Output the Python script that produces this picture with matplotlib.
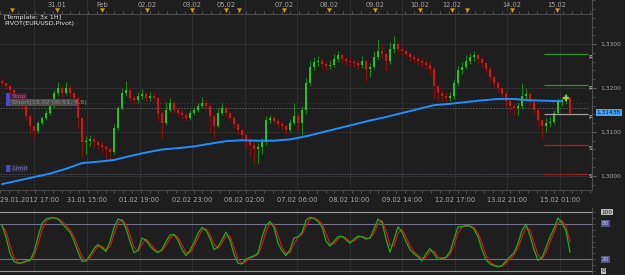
import numpy as np
import pandas as pd
import matplotlib
matplotlib.use("Agg")
import matplotlib.pyplot as plt
from matplotlib.patches import Rectangle
from matplotlib.ticker import MultipleLocator, FuncFormatter

# ---------------- data ----------------
first_open = 1.3215
closes = [
    1.3211, 1.3204, 1.3195, 1.3181, 1.3170, 1.3159, 1.3137, 1.3114, 1.3103, 1.3121,
    1.3132, 1.3143, 1.3159, 1.3188, 1.3199, 1.3188, 1.3199, 1.3188, 1.3177, 1.3132,
    1.3076, 1.3079, 1.3083, 1.3076, 1.3070, 1.3065, 1.3061, 1.3054, 1.3110, 1.3155,
    1.3188, 1.3195, 1.3177, 1.3172, 1.3181, 1.3186, 1.3177, 1.3181, 1.3177, 1.3143,
    1.3121, 1.3150, 1.3166, 1.3150, 1.3143, 1.3139, 1.3132, 1.3143, 1.3150, 1.3159,
    1.3166, 1.3159, 1.3137, 1.3114, 1.3143, 1.3155, 1.3143, 1.3132, 1.3117, 1.3105,
    1.3092, 1.3081, 1.3070, 1.3061, 1.3065, 1.3076, 1.3128, 1.3132, 1.3126, 1.3119,
    1.3114, 1.3105, 1.3121, 1.3137, 1.3121, 1.3150, 1.3211, 1.3249, 1.3260, 1.3262,
    1.3255, 1.3251, 1.3253, 1.3266, 1.3275, 1.3266, 1.3262, 1.3260, 1.3257, 1.3253,
    1.3262, 1.3244, 1.3249, 1.3271, 1.3284, 1.3278, 1.3262, 1.3289, 1.3300, 1.3289,
    1.3284, 1.3278, 1.3271, 1.3266, 1.3262, 1.3257, 1.3253, 1.3244, 1.3204, 1.3188,
    1.3181, 1.3177, 1.3181, 1.3211, 1.3240, 1.3249, 1.3262, 1.3271, 1.3275, 1.3266,
    1.3257, 1.3244, 1.3226, 1.3211, 1.3199, 1.3186, 1.3170, 1.3159, 1.3155, 1.3159,
    1.3181, 1.3186, 1.3168, 1.3150, 1.3128, 1.3114, 1.3121, 1.3123, 1.3143, 1.3170,
    1.3172, 1.3177, 1.3144,
]
highs = [
    1.3222, 1.3214, 1.3207, 1.3198, 1.3186, 1.3174, 1.3162, 1.3140, 1.3118, 1.3126,
    1.3137, 1.3150, 1.3166, 1.3195, 1.3213, 1.3204, 1.3213, 1.3206, 1.3192, 1.3181,
    1.3135, 1.3090, 1.3092, 1.3090, 1.3080, 1.3076, 1.3070, 1.3066, 1.3118, 1.3160,
    1.3200, 1.3217, 1.3200, 1.3184, 1.3190, 1.3197, 1.3192, 1.3190, 1.3188, 1.3183,
    1.3148, 1.3168, 1.3177, 1.3170, 1.3155, 1.3150, 1.3145, 1.3150, 1.3157, 1.3166,
    1.3180, 1.3175, 1.3163, 1.3140, 1.3155, 1.3166, 1.3160, 1.3148, 1.3137, 1.3121,
    1.3110, 1.3096, 1.3085, 1.3076, 1.3075, 1.3085, 1.3137, 1.3139, 1.3137, 1.3130,
    1.3125, 1.3118, 1.3130, 1.3166, 1.3143, 1.3160, 1.3222, 1.3262, 1.3271, 1.3273,
    1.3268, 1.3262, 1.3264, 1.3278, 1.3284, 1.3280, 1.3271, 1.3270, 1.3266, 1.3264,
    1.3272, 1.3266, 1.3258, 1.3284, 1.3311, 1.3298, 1.3282, 1.3305, 1.3318, 1.3305,
    1.3294, 1.3289, 1.3282, 1.3276, 1.3272, 1.3268, 1.3264, 1.3262, 1.3248, 1.3208,
    1.3195, 1.3190, 1.3192, 1.3220, 1.3250, 1.3260, 1.3275, 1.3280, 1.3284, 1.3280,
    1.3270, 1.3260, 1.3248, 1.3230, 1.3215, 1.3203, 1.3190, 1.3174, 1.3166, 1.3168,
    1.3211, 1.3200, 1.3190, 1.3172, 1.3155, 1.3130, 1.3132, 1.3135, 1.3150, 1.3178,
    1.3180, 1.3188, 1.3180,
]
lows = [
    1.3205, 1.3198, 1.3188, 1.3175, 1.3162, 1.3150, 1.3128, 1.3095, 1.3087, 1.3098,
    1.3116, 1.3128, 1.3139, 1.3155, 1.3183, 1.3180, 1.3184, 1.3180, 1.3168, 1.3110,
    1.3043, 1.3050, 1.3068, 1.3066, 1.3060, 1.3052, 1.3036, 1.3036, 1.3050, 1.3105,
    1.3150, 1.3183, 1.3170, 1.3163, 1.3166, 1.3176, 1.3170, 1.3170, 1.3168, 1.3125,
    1.3087, 1.3115, 1.3145, 1.3143, 1.3137, 1.3130, 1.3125, 1.3128, 1.3139, 1.3145,
    1.3155, 1.3150, 1.3100, 1.3087, 1.3110, 1.3139, 1.3135, 1.3125, 1.3108, 1.3096,
    1.3083, 1.3063, 1.3045, 1.3027, 1.3030, 1.3050, 1.3070, 1.3120, 1.3118, 1.3110,
    1.3105, 1.3096, 1.3100, 1.3115, 1.3105, 1.3092, 1.3140, 1.3205, 1.3240, 1.3250,
    1.3246, 1.3242, 1.3244, 1.3248, 1.3260, 1.3258, 1.3252, 1.3250, 1.3248, 1.3244,
    1.3246, 1.3215, 1.3225, 1.3244, 1.3264, 1.3268, 1.3238, 1.3255, 1.3280, 1.3280,
    1.3275, 1.3270, 1.3262, 1.3257, 1.3253, 1.3248, 1.3244, 1.3230, 1.3176, 1.3170,
    1.3170, 1.3168, 1.3170, 1.3175, 1.3205, 1.3232, 1.3243, 1.3255, 1.3262, 1.3258,
    1.3248, 1.3235, 1.3216, 1.3200, 1.3190, 1.3176, 1.3158, 1.3145, 1.3139, 1.3139,
    1.3152, 1.3170, 1.3160, 1.3140, 1.3110, 1.3083, 1.3100, 1.3112, 1.3118, 1.3138,
    1.3160, 1.3164, 1.3138,
]
# moving average sampled every 4th candle
ma_values = [
    1.2981, 1.2989, 1.2997, 1.3005, 1.3016, 1.3029, 1.3032, 1.3036, 1.3045, 1.3053,
    1.3060, 1.3063, 1.3067, 1.3073, 1.3079, 1.3081, 1.3080, 1.3080, 1.3083, 1.3090,
    1.3099, 1.3108, 1.3117, 1.3126, 1.3134, 1.3143, 1.3152, 1.3161, 1.3164, 1.3168,
    1.3172, 1.3175, 1.3175, 1.3172, 1.3171, 1.3170,
]
stoch_k = [
    77, 57, 30, 16, 13, 14, 17, 18, 32, 58,
    81, 88, 90, 90, 88, 81, 73, 66, 51, 32,
    16, 17, 27, 38, 45, 39, 33, 50, 74, 88,
    86, 72, 50, 31, 35, 56, 52, 42, 35, 31,
    37, 50, 61, 62, 52, 36, 26, 35, 48, 64,
    74, 69, 55, 36, 41, 53, 66, 52, 28, 13,
    12, 20, 23, 26, 30, 57, 77, 84, 74, 47,
    34, 26, 36, 56, 58, 65, 86, 91, 89, 84,
    75, 51, 42, 50, 58, 59, 53, 47, 54, 59,
    58, 54, 56, 71, 88, 83, 54, 32, 53, 75,
    66, 50, 36, 29, 24, 17, 29, 38, 29, 19,
    22, 23, 33, 54, 75, 75, 77, 76, 71, 58,
    36, 19, 12, 9, 7, 9, 17, 24, 31, 47,
    69, 79, 60, 36, 18, 23, 40, 58, 72, 90,
    81, 68, 32,
]
pivot_names = ["R2", "R1", "P", "S1", "S2"]
pivot_values = [1.3278, 1.3206, 1.3141, 1.3070, 1.3005]
stop_price = 1.3166
entry_price = 1.3155
limit_price = 1.3005
last_price = 1.31438
trade_marker = (141, 1.3177)
price_ticks = [1.3000, 1.3100, 1.3200, 1.3300]
osc_levels = [100, 80, 20, 0]
time_labels = ["29.01.2012 17:00", "31.01 15:00", "01.02 19:00", "02.02 23:00",
               "06.02 02:00", "07.02 06:00", "08.02 10:00", "09.02 14:00",
               "12.02 17:00", "13.02 21:00", "15.02 01:00"]
day_labels = ["31.01", "Feb", "02.02", "03.02", "05.02", "07.02", "08.02",
              "09.02", "10.02", "12.02", "14.02", "15.02"]
day_idx = [13.75, 25, 36.25, 47.5, 56, 70.5, 81.75, 93.25, 104.5, 112.5, 127.5, 138.75]
extra_marker_idx = [2.5, 59.25, 116.25]

# ---------------- style ----------------
W, H = 625, 275
BG = "#1e1e1e"
GRID = "#2e2e2e"
TXT = "#a8a8a8"
GREEN = "#22c222"
GREEN_W = "#138a13"
RED = "#d21414"
RED_W = "#8a1010"

c = np.array(closes)
hi = np.array(highs)
lo = np.array(lows)
o = np.r_[first_open, c[:-1]]
n = len(c)
x = np.arange(n)
up = c >= o

fig = plt.figure(figsize=(W / 100, H / 100), dpi=100, facecolor=BG)

# main price axes (pixel rows 0..190, cols 0..592)
ax = fig.add_axes([0, 85 / H, 592 / W, 190 / H], facecolor=BG)
ax.set_xlim(-0.5, 147.5)
ax.set_ylim(1.29676, 1.34007)

# grid
grid_x = [8] + list(21.25 + 13.13 * np.arange(10))
for gx in grid_x:
    ax.axvline(gx, color=GRID, lw=0.8, zorder=0)
for p in price_ticks:
    ax.axhline(p, color=GRID, lw=0.8, zorder=0)

# trade lines
ax.hlines(stop_price, -0.5, 146.5, color="#5c2222", lw=0.7, linestyles=(0, (2, 2)), zorder=1)
ax.hlines(entry_price, -0.5, 146.5, color="#5a5a5a", lw=0.7, linestyles=(0, (1.5, 1.5)), zorder=1)
ax.hlines(limit_price, -0.5, 146.5, color="#4e4e60", lw=0.7, linestyles=(0, (1.5, 1.5)), zorder=1)

# candles
ax.vlines(x, lo, hi, colors=np.where(up, GREEN_W, RED_W), lw=0.8, zorder=2)
ax.bar(x, np.maximum(np.abs(c - o), 0.00008), bottom=np.minimum(o, c), width=0.6,
       color=np.where(up, GREEN, RED), linewidth=0, zorder=3)

# moving average
ma_x = np.arange(0, n, 4)[:len(ma_values)]
ax.plot(ma_x, ma_values, color="#1e90ff", lw=1.4, zorder=4, solid_capstyle="round")

# pivots
piv_colors = ["#2a9a2a", "#2a9a2a", "#a0a0a0", "#cc1111", "#cc1111"]
piv_styles = ["-", "-", "-", "-", (0, (1.5, 1))]
for name, v, col, ls in zip(pivot_names, pivot_values, piv_colors, piv_styles):
    ax.hlines(v, 135.5, 146.5, color=col, lw=0.9, linestyles=ls, zorder=4)
    ax.text(146.7, v - 0.0002, name, color="#e0e0e0", fontsize=4.5, ha="left", va="top",
            clip_on=True, zorder=5)

# trade marker
ax.plot([trade_marker[0]], [trade_marker[1]], marker="P", ms=4.5, color="#a8d840",
        mec="#6a9a20", mew=0.3, zorder=6)

# header strip inside the main axes
xt = ax.get_xaxis_transform()
ax.plot([-0.5, 147.5], [1 - 14 / 190] * 2, color="#4a4a4a", lw=0.8, transform=xt, zorder=5)
tick_x = np.arange(-0.5, 147.5, 2.2)
ax.vlines(tick_x, 1 - 14 / 190, 1 - 11 / 190, colors="#5a5a5a", lw=0.6, transform=xt)
ax.vlines(tick_x, 0, -3 / 190, colors="#5a5a5a", lw=0.6, transform=xt, clip_on=False)
for lbl, xi in zip(day_labels, day_idx):
    ax.text(xi, 1 - 5 / 190, lbl, color=TXT, fontsize=4.8, ha="center", va="center", transform=xt)
marker_x = sorted(list(day_idx) + list(extra_marker_idx))
ax.plot(marker_x, [1 - 10 / 190] * len(marker_x), linestyle="none", marker="v", ms=3.2,
        color="#d8a21c", mec="#8a6a10", mew=0.3, transform=xt, zorder=6)

# bottom time labels
for i, lbl in enumerate(time_labels):
    if i == 0:
        ax.text(-0.5, -10 / 190, lbl, color=TXT, fontsize=4.8, ha="left", va="center",
                transform=xt, clip_on=False)
    else:
        ax.text(grid_x[i], -10 / 190, lbl, color=TXT, fontsize=4.8, ha="center", va="center",
                transform=xt, clip_on=False)

# axes styling
ax.set_xticks([])
ax.yaxis.tick_right()
ax.set_yticks(price_ticks)
ax.yaxis.set_major_formatter(FuncFormatter(lambda v, _: f"{v:.4f}".replace(".", ",")))
ax.yaxis.set_minor_locator(MultipleLocator(0.002))
ax.tick_params(axis="y", which="major", colors="#707070", labelcolor=TXT, labelsize=4.3,
               length=3, width=0.6, pad=3)
ax.tick_params(axis="y", which="minor", colors="#606060", length=2, width=0.5)
for s in ["top", "left"]:
    ax.spines[s].set_visible(False)
ax.spines["right"].set_color("#505050")
ax.spines["bottom"].set_color("#4a4a4a")
ax.spines["right"].set_linewidth(0.8)
ax.spines["bottom"].set_linewidth(0.8)

# current price box
ax.text(1.008, last_price, f"{last_price:.5f}".replace(".", ","), transform=ax.get_yaxis_transform(),
        fontsize=4.2, color="#0c1c34", ha="left", va="center", clip_on=False,
        bbox=dict(boxstyle="square,pad=0.2", fc="#4aa4f5", ec="none"))

# oscillator axes (pixel rows 208..273)
ox = fig.add_axes([0, 2 / H, 592 / W, 65 / H], facecolor=BG)
ox.set_xlim(-0.5, 147.5)
ox.set_ylim(-3.4, 106.8)
for gx in grid_x:
    ox.axvline(gx, color=GRID, lw=0.8, zorder=0)
lvl_colors = {100: "#9a9a9a", 80: "#72728c", 20: "#72728c", 0: "#9a9a9a"}
for lv in osc_levels:
    ox.axhline(lv, color=lvl_colors[lv], lw=0.8, zorder=1)
k = pd.Series(stoch_k, dtype=float)
d = k.rolling(2, min_periods=1).mean()
ox.plot(x, d, color="#d01818", lw=0.9, zorder=2)
ox.plot(x, k, color="#1fae1f", lw=0.9, zorder=3)
ox.set_xticks([])
ox.set_yticks([])
ox.yaxis.set_minor_locator(MultipleLocator(10))
ox.yaxis.tick_right()
ox.tick_params(axis="y", which="minor", colors="#606060", length=2, width=0.5)
for s in ["top", "left", "bottom"]:
    ox.spines[s].set_visible(False)
ox.spines["right"].set_color("#505050")
ox.spines["right"].set_linewidth(0.8)
yt = ox.get_yaxis_transform()
for lv in osc_levels:
    if lv in (80, 20):
        fc, tc = "#545490", "#c8c8e8"
    else:
        fc, tc = "#bdbdbd", "#202020"
    ox.text(1.016, lv, str(lv), transform=yt, fontsize=4.2, color=tc, ha="left", va="center",
            clip_on=False, bbox=dict(boxstyle="square,pad=0.15", fc=fc, ec="none"))

# top-left texts
fig.text(4 / W, 1 - 17 / H, "[Template: 3x 1H]", color="#e8e8e8", fontsize=4.6, ha="left", va="center")
fig.text(4 / W, 1 - 24 / H, "PIVOT(EUR/USD,Pivot)", color="#e8e8e8", fontsize=4.6, ha="left", va="center")


# order labels (figure pixel layout)
def px_rect(x0, y0, w, h, fc):
    fig.add_artist(Rectangle((x0 / W, 1 - (y0 + h) / H), w / W, h / H, transform=fig.transFigure,
                             fc=fc, ec="none", zorder=10))


px_rect(6, 93, 21, 7, "#4a1c34")
px_rect(6, 93, 4, 7, "#4848d0")
fig.text(12 / W, 1 - 96.5 / H, "Stop", color="#b86a8a", fontsize=4.6, ha="left", va="center", zorder=11)
px_rect(7, 99, 71, 7, "#4c4c4c")
px_rect(6, 99, 4, 7, "#4848d0")
fig.text(12 / W, 1 - 102.5 / H, "Short(15.02 06:51, 4,8)", color="#8a8a8a", fontsize=4.6,
         ha="left", va="center", zorder=11)
px_rect(6, 165, 21, 7, "#2c2c48")
px_rect(6, 165, 4, 7, "#4848d0")
fig.text(12 / W, 1 - 168.5 / H, "Limit", color="#7c7c9c", fontsize=4.6, ha="left", va="center", zorder=11)

fig.savefig("out.png", dpi=100, facecolor=BG)
